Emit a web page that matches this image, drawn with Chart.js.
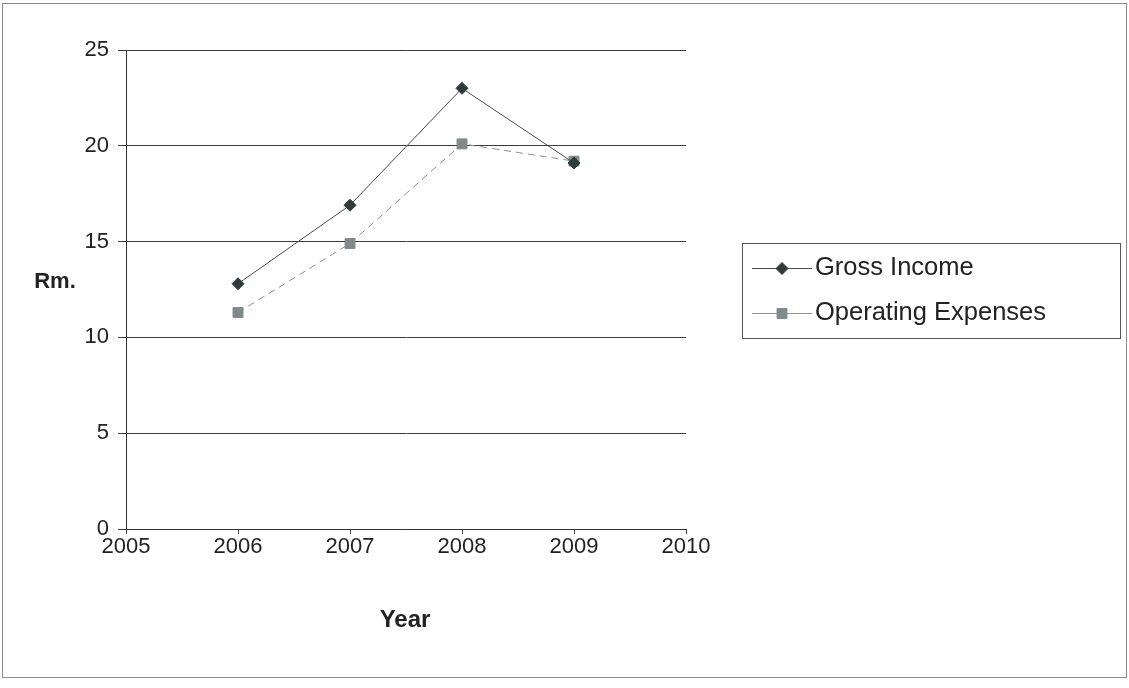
<!DOCTYPE html>
<html>
<head>
<meta charset="utf-8">
<script src="https://cdn.jsdelivr.net/npm/chart.js@4/dist/chart.umd.min.js"></script>
<style>
  html, body { margin: 0; padding: 0; background: #fff; }
  #wrap { position: relative; width: 1129px; height: 688px; }
  canvas { display: block; }
</style>
</head>
<body>
<div id="wrap"><canvas id="c" width="1129" height="688"></canvas></div>
<script>
const years = [2006, 2007, 2008, 2009];
const grossIncome = [12.8, 16.9, 23.0, 19.1];
const operatingExpenses = [11.3, 14.9, 20.1, 19.2];
const seriesNames = ['Gross Income', 'Operating Expenses'];
const xTitle = 'Year';
const yTitle = 'Rm.';

const FONT = '"Liberation Sans", Arial, sans-serif';

const frameAndLabels = {
  id: 'frameAndLabels',
  beforeDraw(chart) {
    const ctx = chart.ctx;
    ctx.save();
    ctx.fillStyle = '#fff';
    ctx.fillRect(0, 0, chart.width, chart.height);
    ctx.strokeStyle = '#8a8a8a';
    ctx.lineWidth = 1;
    ctx.strokeRect(2.5, 3.5, 1124, 674);
    ctx.restore();
  },
  afterDraw(chart) {
    const ctx = chart.ctx;
    ctx.save();
    ctx.fillStyle = '#222';
    ctx.textAlign = 'center';
    ctx.textBaseline = 'middle';
    ctx.font = 'bold 22px ' + FONT;
    ctx.fillText(yTitle, 55, 282);
    ctx.font = 'bold 24px ' + FONT;
    ctx.fillText(xTitle, 405, 620);

    // legend box
    const lx = 742.5, ly = 243.5, lw = 378, lh = 95;
    ctx.strokeStyle = '#555';
    ctx.lineWidth = 1;
    ctx.strokeRect(lx, ly, lw, lh);
    const rows = [268, 313];
    chart.data.datasets.forEach((ds, i) => {
      const y = rows[i];
      ctx.save();
      ctx.strokeStyle = ds.borderColor;
      ctx.lineWidth = 1;
      ctx.setLineDash([]);
      ctx.beginPath();
      ctx.moveTo(752, y + 0.5);
      ctx.lineTo(812, y + 0.5);
      ctx.stroke();
      ctx.fillStyle = ds.pointBackgroundColor;
      ctx.strokeStyle = ds.pointBackgroundColor;
      Chart.helpers.drawPoint(ctx, {
        pointStyle: ds.pointStyle,
        radius: ds.pointRadius,
        borderWidth: 1,
        rotation: 0
      }, 782, y + 0.5);
      ctx.restore();
      ctx.fillStyle = '#222';
      ctx.font = '25.5px ' + FONT;
      ctx.textAlign = 'left';
      ctx.textBaseline = 'middle';
      ctx.fillText(ds.label, 815, y);
    });
    ctx.restore();
  }
};

new Chart(document.getElementById('c'), {
  type: 'line',
  data: {
    datasets: [
      {
        label: seriesNames[0],
        data: years.map((x, i) => ({ x, y: grossIncome[i] })),
        borderColor: '#4a4a4a',
        borderWidth: 1,
        pointStyle: 'rectRot',
        pointRadius: 6,
        pointBackgroundColor: '#2f3c3c',
        pointBorderColor: '#2f3c3c',
        pointBorderWidth: 1,
        tension: 0
      },
      {
        label: seriesNames[1],
        data: years.map((x, i) => ({ x, y: operatingExpenses[i] })),
        borderColor: '#8c9090',
        borderWidth: 1,
        borderDash: [7, 5],
        pointStyle: 'rect',
        pointRadius: 7,
        pointBackgroundColor: '#7f8a8a',
        pointBorderColor: '#7f8a8a',
        pointBorderWidth: 1,
        tension: 0
      }
    ]
  },
  options: {
    responsive: false,
    animation: false,
    events: [],
    layout: { padding: { left: 66, right: 443, top: 50, bottom: 119 } },
    plugins: { legend: { display: false }, tooltip: { enabled: false }, title: { display: false } },
    scales: {
      x: {
        type: 'linear',
        min: 2005,
        max: 2010,
        afterFit(s) { s.height = 40; },
        ticks: {
          stepSize: 1,
          color: '#222',
          font: { family: FONT, size: 22 },
          padding: 0,
          callback: v => String(v)
        },
        grid: { drawOnChartArea: false, drawTicks: true, tickLength: 5, color: '#444' },
        border: { display: true, color: '#333', width: 1 }
      },
      y: {
        min: 0,
        max: 25,
        afterFit(s) { s.width = 60; },
        ticks: {
          stepSize: 5,
          color: '#222',
          font: { family: FONT, size: 22 },
          padding: 9
        },
        grid: { drawOnChartArea: true, drawTicks: true, tickLength: 8, color: '#3a3a3a', lineWidth: 1 },
        border: { display: true, color: '#333', width: 1 }
      }
    }
  },
  plugins: [frameAndLabels]
});
</script>
</body>
</html>
